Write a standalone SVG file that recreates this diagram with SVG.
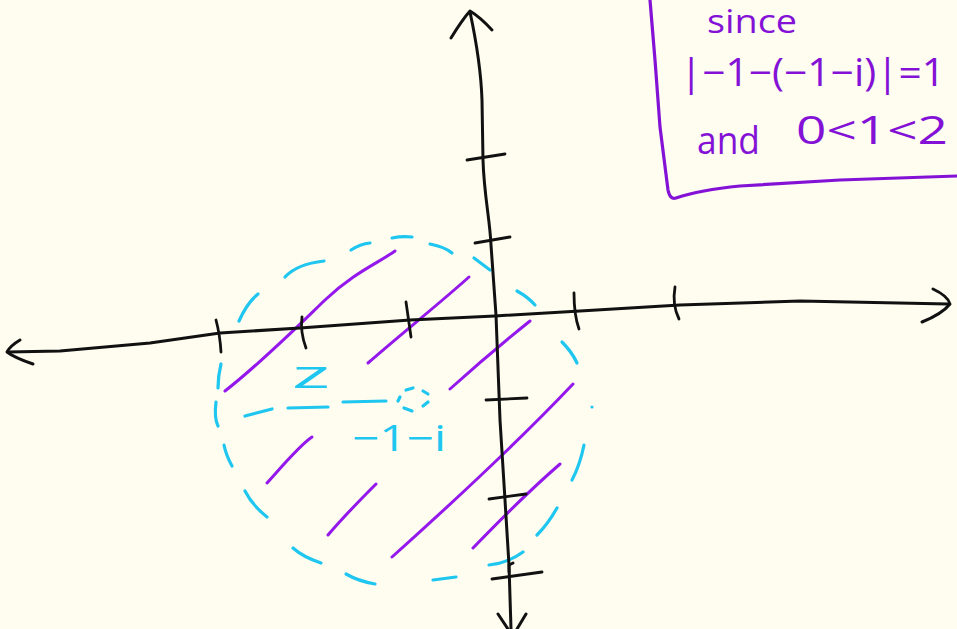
<svg xmlns="http://www.w3.org/2000/svg" width="957" height="629" viewBox="0 0 957 629">
<style>
.ax{fill:none;stroke:#111;stroke-width:3;stroke-linecap:round;stroke-linejoin:round}
.tk{fill:none;stroke:#111;stroke-width:2.8;stroke-linecap:round}
.cy{fill:none;stroke:#1fc6f0;stroke-width:3.2;stroke-linecap:round}
.hp{fill:none;stroke:#9417ec;stroke-width:3;stroke-linecap:round}
.box{fill:none;stroke:#8412d6;stroke-width:3.2;stroke-linecap:round;stroke-linejoin:round}
.pt{fill:#8412d6;font-family:"Open Sans","Liberation Sans",sans-serif}
.ct{fill:#1fc6f0;font-family:"Open Sans","Liberation Sans",sans-serif}
</style>
<rect width="957" height="629" fill="#fefdf0"/>

<g id="hatch">
<path class="hp" d="M225,391 C262,362 297,327 325,300 S380,262 395,251"/>
<path class="hp" d="M368,363 C400,335 440,303 469,277"/>
<path class="hp" d="M450,389 C480,362 505,341 530,321"/>
<path class="hp" d="M267,483 C285,463 300,445 312,437"/>
<path class="hp" d="M328,535 C345,515 360,500 376,484"/>
<path class="hp" d="M392,557 C450,505 520,440 573,384"/>
<path class="hp" d="M473,548 C500,520 530,490 560,464"/>
</g>

<g id="circle">
<path class="cy" d="M392,238 Q402,236 412,237"/>
<path class="cy" d="M430,244 Q445,247 452,253"/>
<path class="cy" d="M474,258 L490,270"/>
<path class="cy" d="M517,291 Q528,297 535,305"/>
<path class="cy" d="M562,342 Q572,352 577,363"/>
<circle cx="592" cy="407" r="1.6" fill="#1fc6f0"/>
<path class="cy" d="M584,445 Q580,465 572,480"/>
<path class="cy" d="M557,508 Q548,524 537,535"/>
<path class="cy" d="M523,552 Q508,563 489,565"/>
<path class="cy" d="M456,577 L433,580"/>
<path class="cy" d="M375,584 Q358,581 346,574"/>
<path class="cy" d="M321,563 Q303,557 293,548"/>
<path class="cy" d="M267,517 Q252,505 245,491"/>
<path class="cy" d="M232,466 Q226,455 224,445"/>
<path class="cy" d="M216,402 Q214,418 218,426"/>
<path class="cy" d="M221,364 Q218,376 218,388"/>
<path class="cy" d="M239,321 Q247,303 258,294"/>
<path class="cy" d="M285,277 Q297,264 324,261"/>
<path class="cy" d="M351,250 Q360,244 370,243"/>
</g>

<g id="center">
<path class="cy" d="M398,401 L400,397"/>
<path class="cy" d="M406,390 L413,388"/>
<path class="cy" d="M423,391 L428,394"/>
<path class="cy" d="M428,402 L423,406"/>
<path class="cy" d="M412,411 L404,408"/>
<path class="cy" d="M245,416 L272,409"/>
<path class="cy" d="M288,408 L328,407"/>
<path class="cy" d="M343,402 L386,401"/>
<text class="ct" x="292" y="388" font-size="38" textLength="38" lengthAdjust="spacingAndGlyphs">z</text>
<text class="ct" x="352" y="451" font-size="36" textLength="94" lengthAdjust="spacingAndGlyphs">−1−i</text>
</g>

<g id="axes">
<path class="ax" d="M948,304 L800,301 L680,305 L580,311 L495,316 L410,320 L300,328 L220,333 L150,343 L60,351 L8,352"/>
<path class="ax" d="M20,340 Q10,346 7,352 Q15,358 33,364"/>
<path class="ax" d="M933,289 Q948,296 950,304 Q942,314 922,322"/>
<path class="ax" d="M470,12 C476,40 481,70 482,100 L483,160 C484,195 490,220 491,245 L496,315 L500,420 L505,500 L509,565 L511,629"/>
<path class="ax" d="M451,38 Q462,20 470,11 Q480,17 492,30"/>
<path class="ax" d="M498,614 L508,629 M526,614 L517,629"/>
<path class="tk" d="M513,563 L509,565 L509,572"/>
<path class="tk" d="M467,160 L505,154"/>
<path class="tk" d="M475,243 L510,237"/>
<path class="tk" d="M486,400 L527,398"/>
<path class="tk" d="M489,499 L526,494"/>
<path class="tk" d="M492,579 L542,572"/>
<path class="tk" d="M216,320 Q220,335 221,352"/>
<path class="tk" d="M302,317 Q300,332 306,348"/>
<path class="tk" d="M406,302 L411,337"/>
<path class="tk" d="M574,293 Q574,315 579,329"/>
<path class="tk" d="M675,287 Q672,305 679,319"/>
</g>

<g id="note">
<path class="box" d="M650,0 L655,60 L660,127 L668,190 Q670,200 676,198 Q700,190 740,186 L840,180 L957,176"/>
<text class="pt" x="707" y="33" font-size="32" textLength="90" lengthAdjust="spacingAndGlyphs">since</text>
<text class="pt" x="680" y="86" font-size="38" textLength="265" lengthAdjust="spacingAndGlyphs">|−1−(−1−i)|=1</text>
<text class="pt" x="697" y="154" font-size="38" textLength="63" lengthAdjust="spacingAndGlyphs">and</text>
<text class="pt" x="796" y="144" font-size="38" textLength="152" lengthAdjust="spacingAndGlyphs">0&lt;1&lt;2</text>
</g>
</svg>
